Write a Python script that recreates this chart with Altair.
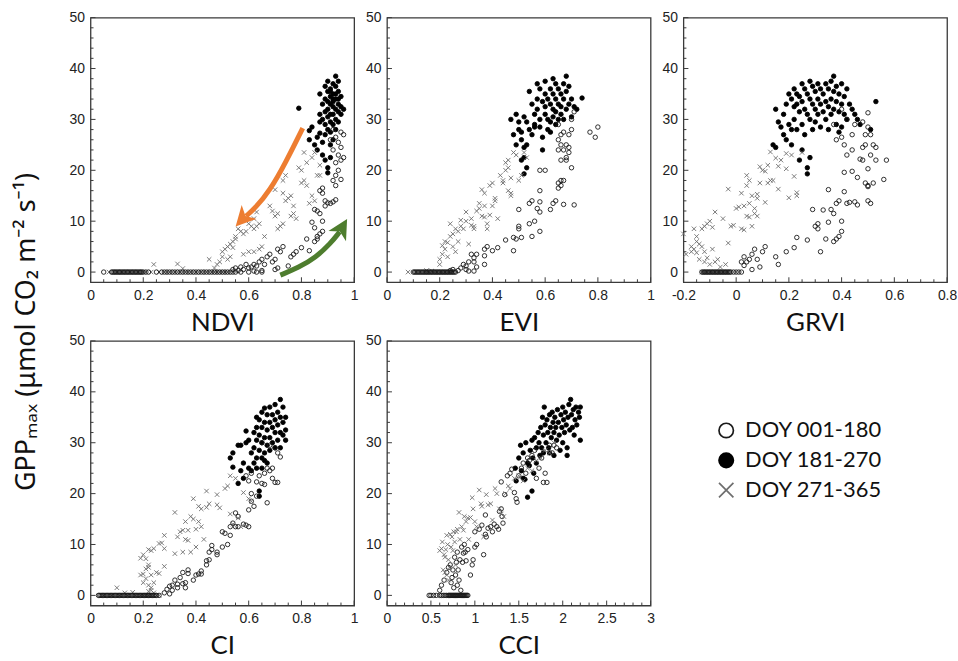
import altair as alt
import pandas as pd

SERIES = ["DOY 001-180", "DOY 181-270", "DOY 271-365"]
X_SHAPE = "M-1,-1L1,1M-1,1L1,-1"
HEAD_SHAPE = "M0,-1L0.95,0.85L0,0.35L-0.95,0.85Z"

Y_TITLE = "GPPₘₐₓ (μmol CO₂ m⁻² s⁻¹)"
Y_MAJOR = [0, 10, 20, 30, 40, 50]
Y_MINOR = [2, 4, 6, 8, 12, 14, 16, 18, 22, 24, 26, 28, 32, 34, 36, 38, 42, 44, 46, 48]

# ---------------- NDVI ----------------
ndvi_filled = [(0.79,32.2),(0.83,27.8),(0.84,28.5),(0.83,26.0),(0.85,25.0),(0.86,26.5),(0.86,24.0),(0.87,27.3),(0.87,29.5),(0.87,31.0),(0.87,35.0),(0.88,33.0),(0.88,30.0),(0.88,25.5),(0.88,23.0),(0.89,36.5),(0.89,34.0),(0.89,31.5),(0.89,29.0),(0.89,27.0),(0.89,22.0),(0.90,37.5),(0.90,35.5),(0.90,33.5),(0.90,32.0),(0.90,30.5),(0.90,28.0),(0.90,20.5),(0.90,19.5),(0.91,36.0),(0.91,34.5),(0.91,33.0),(0.91,31.0),(0.91,29.5),(0.91,27.5),(0.91,25.0),(0.91,22.5),(0.92,37.0),(0.92,35.0),(0.92,33.5),(0.92,32.5),(0.92,31.0),(0.92,29.0),(0.92,26.0),(0.93,38.5),(0.93,36.5),(0.93,34.0),(0.93,32.0),(0.93,30.0),(0.93,28.0),(0.94,37.5),(0.94,35.5),(0.94,33.0),(0.94,31.5),(0.94,29.5),(0.95,34.5),(0.95,32.5),(0.95,31.0),(0.96,32.0),(0.93,35.0),(0.92,34.0),(0.91,35.5),(0.94,34.0)]
ndvi_open = [(0.95,27.5),(0.96,27.0),(0.94,25.5),(0.95,24.5),(0.94,23.0),(0.95,22.0),(0.96,22.5),(0.93,21.5),(0.94,20.0),(0.93,19.0),(0.92,18.0),(0.93,17.0),(0.95,18.2),(0.92,24.0),(0.91,26.0),(0.93,26.5),(0.92,28.0),(0.92,13.8),(0.93,14.2),(0.91,13.5),(0.90,13.6),(0.89,14.0),(0.88,15.5),(0.87,16.0),(0.88,16.5),(0.89,13.0),(0.85,12.3),(0.86,12.0),(0.87,11.5),(0.84,9.8),(0.85,8.7),(0.86,7.0),(0.88,10.0),(0.87,7.5),(0.88,8.0),(0.85,6.0),(0.86,6.5),(0.80,4.8),(0.83,4.2),(0.82,6.5),(0.77,3.5),(0.76,3.0),(0.78,4.0),(0.75,1.2),(0.73,5.0),(0.72,4.0),(0.71,4.5),(0.70,2.5),(0.69,2.0),(0.68,3.5),(0.67,3.0),(0.66,1.5),(0.65,2.5),(0.64,2.0),(0.63,1.2),(0.62,1.5),(0.61,1.0),(0.60,0.8),(0.59,1.5),(0.58,0.5),(0.57,1.0),(0.56,0.3),(0.55,0.8),(0.54,0.5),(0.62,0.2),(0.65,0.3),(0.70,0.5),(0.71,0.8)]
ndvi_open_zero = [0.05,0.08,0.085,0.09,0.095,0.10,0.105,0.11,0.115,0.12,0.125,0.13,0.135,0.14,0.145,0.15,0.155,0.16,0.165,0.17,0.175,0.18,0.185,0.19,0.195,0.20,0.21,0.22,0.25,0.27,0.28,0.29,0.30,0.31,0.32,0.33,0.34,0.35,0.36,0.37,0.38,0.39,0.40,0.41,0.42,0.43,0.44,0.45,0.46,0.47,0.48,0.49,0.50,0.51,0.52,0.53,0.54,0.55,0.57,0.60,0.63,0.65]
ndvi_cross = [(0.24,1.5),(0.33,1.6),(0.35,0.7),(0.45,2.5),(0.47,0.8),(0.48,1.5),(0.49,2.0),(0.50,3.0),(0.50,4.0),(0.51,4.5),(0.52,5.0),(0.53,5.5),(0.54,6.0),(0.54,4.8),(0.55,6.5),(0.53,3.0),(0.52,2.5),(0.55,7.0),(0.56,8.5),(0.57,8.0),(0.58,7.5),(0.59,8.0),(0.60,9.5),(0.61,9.0),(0.62,10.5),(0.63,9.0),(0.63,11.8),(0.64,9.5),(0.62,8.5),(0.58,3.5),(0.60,4.0),(0.62,4.0),(0.64,4.5),(0.65,5.0),(0.66,7.0),(0.68,13.0),(0.69,12.0),(0.70,11.0),(0.71,8.5),(0.71,11.5),(0.72,9.0),(0.73,9.5),(0.73,15.5),(0.74,14.0),(0.75,14.5),(0.76,15.0),(0.73,18.0),(0.74,19.0),(0.76,11.0),(0.77,11.5),(0.78,10.5),(0.80,17.5),(0.81,18.0),(0.82,17.0),(0.79,20.5),(0.80,20.0),(0.82,21.5),(0.81,23.5),(0.83,13.5),(0.84,15.0),(0.85,14.0),(0.86,19.0),(0.84,22.5),(0.85,23.5),(0.87,21.0),(0.87,19.0),(0.70,16.2),(0.77,13.0)]
ndvi_cross_zero = [0.07,0.10,0.12,0.15,0.18,0.20,0.23,0.26,0.28,0.30,0.32,0.34,0.36,0.38,0.40,0.42,0.44,0.46,0.47,0.48,0.49,0.50,0.51,0.52]

# ---------------- EVI ----------------
evi_filled = [(0.47,30),(0.48,27),(0.49,25),(0.49,31),(0.50,28),(0.50,29.5),(0.51,27.5),(0.51,26),(0.52,30.5),(0.52,24.5),(0.52,22.5),(0.51,22),(0.53,20.5),(0.52,19.3),(0.53,25),(0.54,28),(0.54,35.5),(0.55,33),(0.55,27),(0.56,31),(0.56,29),(0.57,37),(0.57,34),(0.57,32),(0.58,36),(0.58,30),(0.58,28.5),(0.59,33.5),(0.59,24),(0.60,37.5),(0.60,35),(0.60,32.5),(0.60,31),(0.61,34),(0.61,30),(0.61,28),(0.62,36),(0.62,33),(0.62,29.5),(0.63,38),(0.63,35),(0.63,32),(0.63,30.5),(0.64,37),(0.64,34),(0.64,31.5),(0.64,29),(0.65,36),(0.65,33),(0.65,30),(0.66,35),(0.66,32.5),(0.66,31),(0.67,37),(0.67,34),(0.67,30),(0.68,38.5),(0.68,35.5),(0.68,32),(0.69,36.5),(0.69,33),(0.70,34),(0.70,30.5),(0.71,32.5),(0.72,32),(0.74,34.2),(0.56,28.5),(0.59,26.5),(0.62,27.5),(0.53,29.5)]
evi_open = [(0.65,29),(0.66,27),(0.65,26),(0.66,25),(0.67,24),(0.68,25),(0.69,24.5),(0.68,22),(0.66,22),(0.65,24),(0.67,27.5),(0.69,27),(0.70,28),(0.70,30),(0.71,31.5),(0.70,20.5),(0.71,13.2),(0.67,13.3),(0.66,18),(0.65,17.5),(0.65,16.5),(0.66,17),(0.67,18),(0.64,14),(0.63,13.5),(0.62,12.3),(0.77,27.5),(0.79,26.5),(0.80,28.5),(0.68,22.5),(0.69,23.5),(0.58,20),(0.60,20),(0.58,16),(0.58,13.8),(0.57,12.5),(0.58,11.8),(0.54,13.5),(0.55,14),(0.56,10),(0.54,9.5),(0.55,7),(0.58,8),(0.50,12.3),(0.50,9),(0.50,8.5),(0.51,6.8),(0.49,6.5),(0.48,6.8),(0.48,4.2),(0.45,6.3),(0.42,4.8),(0.40,4.2),(0.38,5.0),(0.37,4.5),(0.37,3.2),(0.37,1.5),(0.34,3.5),(0.33,2.8),(0.33,2.0),(0.34,1.0),(0.32,3.5),(0.31,2.0),(0.30,1.2),(0.30,0.5),(0.29,1.5),(0.28,0.8),(0.27,0.3),(0.25,0.5),(0.24,0.3),(0.33,0.2),(0.31,0.2)]
evi_open_zero = [0.10,0.105,0.11,0.115,0.12,0.125,0.13,0.135,0.14,0.145,0.15,0.155,0.16,0.165,0.17,0.175,0.18,0.185,0.19,0.195,0.20,0.205,0.21,0.215,0.22,0.225,0.23,0.235,0.24,0.245,0.25,0.255,0.26]
evi_cross = [(0.08,0),(0.15,0.3),(0.17,0.2),(0.20,1.5),(0.20,2.5),(0.21,3.5),(0.21,5.2),(0.22,6),(0.22,4.5),(0.23,5.8),(0.23,3),(0.24,7),(0.24,9.5),(0.25,7.5),(0.25,5),(0.26,8.5),(0.26,4),(0.27,8),(0.27,6),(0.28,9),(0.28,10.2),(0.29,8.5),(0.30,11.8),(0.30,10),(0.31,5.5),(0.32,9.2),(0.32,10.5),(0.33,8.5),(0.33,9),(0.34,12),(0.35,12.5),(0.35,13.5),(0.36,16.2),(0.36,11),(0.37,15.5),(0.37,13),(0.37,10.8),(0.38,9.5),(0.38,8.5),(0.39,11.2),(0.39,17),(0.40,17.5),(0.40,13),(0.41,14.5),(0.41,14),(0.42,10.5),(0.43,19),(0.44,18),(0.44,17.5),(0.45,20),(0.45,21.5),(0.46,22),(0.46,16),(0.47,15),(0.47,18.5),(0.48,23.5),(0.49,23),(0.50,18),(0.51,19),(0.52,23.5),(0.53,22.5),(0.47,15.5),(0.46,20.5)]
evi_cross_zero = [0.15,0.16,0.18,0.19,0.20,0.21,0.22,0.23,0.24]

# ---------------- GRVI ----------------
grvi_filled = [(0.14,25),(0.15,32),(0.15,24.5),(0.16,29.5),(0.17,28.5),(0.18,31),(0.18,27),(0.19,33),(0.19,26),(0.20,35),(0.20,29),(0.21,34),(0.21,28),(0.21,25),(0.22,36),(0.22,32.5),(0.22,30),(0.23,35),(0.23,33),(0.23,28),(0.24,34.5),(0.24,31.5),(0.24,22),(0.25,37),(0.25,33.5),(0.25,29),(0.25,24),(0.26,36),(0.26,32),(0.26,27),(0.27,19.3),(0.27,20.5),(0.27,35),(0.27,31),(0.28,37.5),(0.28,34),(0.28,30),(0.28,22.5),(0.29,36.5),(0.29,33),(0.29,28),(0.30,35.5),(0.30,32),(0.30,29.5),(0.31,37),(0.31,34),(0.31,31),(0.32,36),(0.32,33),(0.32,28.5),(0.33,35),(0.33,31.5),(0.34,37),(0.34,33.5),(0.34,30),(0.35,36),(0.35,32.5),(0.35,28),(0.36,37.5),(0.36,34),(0.36,31),(0.37,38.5),(0.37,35.5),(0.37,32),(0.38,36.5),(0.38,33.5),(0.38,29),(0.39,35),(0.39,31.5),(0.40,37),(0.40,33),(0.41,34.5),(0.41,31),(0.42,36),(0.42,30),(0.43,33),(0.44,32),(0.45,31),(0.46,30),(0.47,29),(0.51,28),(0.53,33.5),(0.39,27.5),(0.40,28.5)]
grvi_open = [(0.03,1.3),(0.02,2),(0.03,3),(0.04,2),(0.05,2.5),(0.06,0.5),(0.06,3.5),(0.07,4.5),(0.08,2.5),(0.09,1),(0.10,4),(0.11,5),(0.15,3),(0.16,1.5),(0.19,4),(0.22,4.8),(0.23,6.8),(0.27,6.3),(0.29,12.3),(0.30,9),(0.31,8.5),(0.31,9.5),(0.32,4),(0.33,12.2),(0.34,6.5),(0.35,9.8),(0.35,16.2),(0.36,12.3),(0.37,11.5),(0.37,6),(0.38,6.5),(0.38,13.5),(0.39,14),(0.39,7),(0.40,8),(0.40,10),(0.41,15.8),(0.41,19.6),(0.42,13.5),(0.42,23),(0.43,13.7),(0.44,19.8),(0.44,24),(0.45,13.8),(0.46,18.6),(0.46,13.2),(0.47,22.2),(0.48,22),(0.48,24.5),(0.49,27),(0.49,25),(0.50,20.3),(0.50,17),(0.50,14),(0.51,13.5),(0.51,23),(0.52,25),(0.52,17.5),(0.53,22),(0.53,24.5),(0.56,18.2),(0.57,22),(0.48,29.5),(0.50,31.3),(0.50,28.5),(0.45,29),(0.42,30),(0.40,32),(0.37,29),(0.38,26),(0.40,26.5),(0.41,25),(0.44,27),(0.51,27),(0.50,16.8),(0.49,17.5)]
grvi_open_zero = [-0.13,-0.125,-0.12,-0.115,-0.11,-0.105,-0.10,-0.095,-0.09,-0.085,-0.08,-0.075,-0.07,-0.065,-0.06,-0.055,-0.05,-0.045,-0.04,-0.035,-0.03,-0.025,-0.02,-0.01,0.00,0.01,0.02]
grvi_cross = [(-0.20,7.5),(-0.19,3.5),(-0.17,5),(-0.17,4),(-0.16,8.5),(-0.16,4.5),(-0.15,7),(-0.15,6),(-0.15,3.8),(-0.14,5.5),(-0.14,2.5),(-0.13,8.5),(-0.13,5),(-0.12,9),(-0.12,4),(-0.12,2),(-0.11,9.5),(-0.11,2.8),(-0.10,10),(-0.10,1.5),(-0.09,8.8),(-0.09,4.5),(-0.08,11.8),(-0.07,2.5),(-0.05,10.5),(-0.04,1.5),(-0.03,16.3),(-0.03,5.7),(-0.02,9),(-0.01,9.2),(0.00,12.5),(0.01,12.8),(0.02,15.5),(0.02,8.5),(0.03,8.3),(0.03,13),(0.04,17),(0.04,19),(0.04,11),(0.05,18),(0.05,13.5),(0.05,10.8),(0.06,9),(0.06,15),(0.07,11.5),(0.07,12.5),(0.08,14.5),(0.08,15.3),(0.08,11),(0.09,20.7),(0.09,17.5),(0.10,20),(0.11,13.7),(0.11,19.8),(0.12,21),(0.12,17.5),(0.13,23.6),(0.13,18),(0.14,18),(0.15,22.4),(0.16,20.8),(0.16,16.3),(0.17,22),(0.19,23.3),(0.19,20.3),(0.20,14.6),(0.21,23),(0.22,18.8),(0.23,15.6),(0.23,15),(0.25,23.5),(-0.06,1),(-0.08,2)]
grvi_cross_zero = [-0.13,-0.12,-0.11,-0.10,-0.09,-0.08,-0.07,-0.06,-0.05,-0.04,-0.03]

# ---------------- CI ----------------
ci_filled = [(0.53,27),(0.54,28),(0.54,25.2),(0.56,29.5),(0.56,22),(0.57,29.5),(0.57,24.5),(0.58,26),(0.58,23),(0.59,32.3),(0.59,30),(0.60,30.5),(0.60,25),(0.61,28),(0.61,24.5),(0.62,32),(0.62,29),(0.62,26),(0.63,35),(0.63,33),(0.63,30.5),(0.63,27),(0.63,25),(0.64,19.5),(0.64,20.5),(0.64,34.5),(0.64,31.5),(0.64,28.5),(0.65,36),(0.65,33),(0.65,30),(0.65,27),(0.66,36.8),(0.66,34),(0.66,31),(0.66,28),(0.67,35.5),(0.67,32.5),(0.67,29.5),(0.67,26),(0.68,37),(0.68,34),(0.68,31),(0.68,28.5),(0.69,35.5),(0.69,33),(0.69,30),(0.70,37.5),(0.70,34.5),(0.70,32),(0.70,29),(0.71,36),(0.71,33.5),(0.71,30.5),(0.72,38.5),(0.72,35),(0.72,32),(0.72,29),(0.73,37),(0.73,34),(0.73,31.5),(0.74,35),(0.74,32.5),(0.74,30.5),(0.65,25),(0.66,26.5)]
ci_open = [(0.28,0.5),(0.29,1.2),(0.30,0.3),(0.30,1.8),(0.31,2.0),(0.31,1.0),(0.32,3.0),(0.33,2.2),(0.33,1.5),(0.34,3.5),(0.35,4.5),(0.35,2.3),(0.36,2.5),(0.36,1.5),(0.37,5.0),(0.37,4.3),(0.39,3.0),(0.40,4.0),(0.41,4.2),(0.42,4.8),(0.42,4.2),(0.44,6.0),(0.44,6.8),(0.45,7.0),(0.45,8.5),(0.46,9.8),(0.46,9.0),(0.48,8.5),(0.48,8.0),(0.50,9.5),(0.50,12.5),(0.51,12.2),(0.52,10),(0.53,11.8),(0.53,13.5),(0.54,14.2),(0.55,13.5),(0.55,16.2),(0.56,15.5),(0.56,13.5),(0.58,14),(0.59,13.8),(0.60,13.5),(0.60,16.8),(0.61,18.5),(0.61,20),(0.62,17.5),(0.63,19.5),(0.63,22.3),(0.64,23.5),(0.65,22),(0.66,21.8),(0.67,18.2),(0.66,24),(0.67,25),(0.68,24.5),(0.69,25),(0.69,23),(0.70,22.2),(0.71,22.2),(0.72,27.2),(0.71,28),(0.70,29),(0.60,22.5),(0.59,23.5),(0.61,24),(0.65,30),(0.68,29.5)]
ci_open_zero = [0.03,0.035,0.04,0.045,0.05,0.055,0.06,0.065,0.07,0.075,0.08,0.085,0.09,0.095,0.10,0.105,0.11,0.115,0.12,0.125,0.13,0.135,0.14,0.145,0.15,0.155,0.16,0.165,0.17,0.175,0.18,0.185,0.19,0.195,0.20,0.205,0.21,0.215,0.22,0.225,0.23,0.235,0.24,0.245,0.25,0.26]
ci_cross = [(0.10,1.5),(0.13,0.5),(0.16,0.6),(0.19,4),(0.19,7.3),(0.20,4.2),(0.20,8),(0.20,2.5),(0.21,7.2),(0.21,5.2),(0.21,3.3),(0.22,5.5),(0.22,6),(0.22,9),(0.22,2),(0.23,8.8),(0.23,4),(0.23,1.5),(0.24,9.2),(0.24,2.5),(0.25,4.5),(0.26,4.3),(0.26,10.2),(0.27,10.3),(0.28,11.8),(0.28,9.2),(0.28,5.7),(0.32,16.3),(0.32,8.2),(0.33,11.5),(0.34,12.5),(0.35,12.8),(0.35,8.5),(0.36,11),(0.36,14.5),(0.37,12.8),(0.37,10.8),(0.38,15.5),(0.38,8.5),(0.39,15),(0.39,19),(0.40,13),(0.40,9.5),(0.41,14.5),(0.41,17.5),(0.42,17),(0.42,13.5),(0.43,11),(0.44,17.3),(0.44,20.5),(0.45,18),(0.48,19.8),(0.48,17.8),(0.49,17.2),(0.51,21),(0.52,21.5),(0.53,23.5),(0.53,16),(0.54,14),(0.55,23),(0.56,15.2),(0.57,13.5),(0.58,20.2),(0.60,19),(0.61,18.5),(0.22,0.8),(0.23,1),(0.24,0.5)]
ci_cross_zero = [0.05,0.08,0.11,0.14,0.17,0.19,0.20,0.21,0.22,0.23,0.24,0.25,0.26]

# ---------------- CCI ----------------
cci_filled = [(1.46,25),(1.47,22.5),(1.50,27),(1.52,29.5),(1.53,24.5),(1.55,28),(1.55,23),(1.57,22.8),(1.58,30),(1.60,26),(1.60,19.3),(1.62,25.5),(1.63,28.5),(1.65,20.5),(1.65,30.5),(1.66,27),(1.67,24),(1.68,31),(1.70,29),(1.70,26),(1.72,32),(1.73,30),(1.74,27.5),(1.75,33),(1.76,29),(1.77,35),(1.78,31.5),(1.78,28),(1.79,37),(1.80,33.5),(1.81,30),(1.82,34.5),(1.83,32),(1.84,29),(1.85,35.5),(1.86,33),(1.87,31),(1.88,36),(1.89,34),(1.90,32),(1.90,27.5),(1.91,35),(1.92,33),(1.93,30.5),(1.94,36.5),(1.95,34),(1.96,31.5),(1.97,28.5),(1.98,35.5),(1.99,33),(2.00,37),(2.00,30),(2.01,34.5),(2.02,32),(2.03,36),(2.04,33.5),(2.05,29),(2.06,35),(2.07,37.5),(2.08,32.5),(2.09,38.5),(2.10,35.5),(2.11,33),(2.12,36.5),(2.13,31.5),(2.14,34.5),(2.15,37),(2.16,33.5),(2.18,36),(2.19,35),(2.20,37),(2.20,30.5),(2.05,27.5),(1.85,28)]
cci_open = [(0.60,1),(0.62,2),(0.65,3),(0.68,4.5),(0.70,5.5),(0.72,6),(0.73,2.5),(0.74,3.5),(0.75,5),(0.76,1.5),(0.77,7.5),(0.78,4),(0.79,6.5),(0.80,2),(0.80,8.5),(0.81,5),(0.82,3),(0.83,7),(0.84,1),(0.85,9.5),(0.86,6.5),(0.87,8.3),(0.88,10),(0.89,8.5),(0.90,6.8),(0.92,9),(0.95,4),(0.97,6),(0.98,7),(1.00,12.5),(1.00,9.5),(1.02,10),(1.05,13),(1.08,13.8),(1.10,8),(1.12,12),(1.12,15.8),(1.13,11.5),(1.15,13.2),(1.18,13.5),(1.20,12.5),(1.22,14),(1.25,13.5),(1.27,13),(1.28,16.5),(1.30,17),(1.30,22.3),(1.31,15.5),(1.32,14.2),(1.34,19.8),(1.37,23.5),(1.40,24),(1.42,24.8),(1.45,20.2),(1.47,19),(1.48,18.3),(1.50,23.5),(1.53,25),(1.55,26),(1.58,24),(1.60,27),(1.62,26.5),(1.65,27.5),(1.68,28.5),(1.70,23),(1.73,25),(1.76,27),(1.78,22.2),(1.80,24),(1.82,22.2),(1.85,29.5),(1.88,28),(1.90,29.5),(1.93,29)]
cci_open_zero = [0.48,0.50,0.53,0.56,0.60,0.62,0.64,0.66,0.68,0.70,0.71,0.72,0.73,0.74,0.75,0.76,0.77,0.78,0.79,0.80,0.81,0.82,0.83,0.84,0.85,0.86,0.87,0.88,0.89,0.90,0.91,0.92]
cci_cross = [(0.60,8.8),(0.62,9.2),(0.63,10.5),(0.65,8),(0.66,7.5),(0.67,9),(0.68,11.8),(0.69,10),(0.70,7),(0.71,5.5),(0.72,12),(0.73,9.5),(0.74,11.5),(0.75,8.8),(0.76,12.5),(0.77,10.5),(0.78,6),(0.79,12.5),(0.80,13),(0.82,16.3),(0.83,11),(0.85,13.5),(0.87,12.8),(0.88,15.5),(0.90,14.5),(0.92,15.2),(0.93,11),(0.95,15.3),(0.97,19.2),(0.98,17),(1.00,14.5),(1.02,13.5),(1.05,20.7),(1.07,18),(1.08,17.5),(1.10,11.5),(1.13,19.8),(1.15,17.8),(1.18,18),(1.20,14.8),(1.23,21),(1.25,20),(1.28,17),(1.30,16),(1.33,15.5),(1.35,20),(1.38,21.5),(1.40,21),(1.45,23),(1.50,23.5),(1.55,22.5),(1.60,25),(1.65,24.5),(1.70,26.5),(1.75,27),(1.80,28.5),(1.85,28),(1.90,30),(0.64,5),(0.66,4.5),(0.68,4),(0.70,3)]
cci_cross_zero = [0.70,0.72,0.74,0.76,0.78,0.80,0.82,0.84,0.86,0.88,0.90]

# x-axis ticks per panel
unit_major = [0, 0.2, 0.4, 0.6, 0.8, 1]
unit_minor = [0.05, 0.1, 0.15, 0.25, 0.3, 0.35, 0.45, 0.5, 0.55, 0.65, 0.7, 0.75, 0.85, 0.9, 0.95]
grvi_major = [-0.2, 0, 0.2, 0.4, 0.6, 0.8]
grvi_minor = [-0.15, -0.1, -0.05, 0.05, 0.1, 0.15, 0.25, 0.3, 0.35, 0.45, 0.5, 0.55, 0.65, 0.7, 0.75]
cci_major = [0, 0.5, 1, 1.5, 2, 2.5, 3]
cci_minor = [0.1, 0.2, 0.3, 0.4, 0.6, 0.7, 0.8, 0.9, 1.1, 1.2, 1.3, 1.4, 1.6, 1.7, 1.8, 1.9, 2.1, 2.2, 2.3, 2.4, 2.6, 2.7, 2.8, 2.9]

# NDVI annotation arrows (data units)
orange_arrow = [(0.805, 28.3), (0.74, 21.5), (0.68, 16.0), (0.625, 12.6), (0.59, 11.0)]
orange_head = (0.578, 10.5)
green_arrow = [(0.72, -0.6), (0.79, 0.9), (0.855, 2.9), (0.91, 5.6), (0.945, 7.9)]
green_head = (0.953, 8.6)

W, H = 265, 266
FRAME = "#3a3a3a"
TICK_FONT = "Liberation Sans"
TITLE_FONT = "Lato"


def make_df(filled, opened, open_zero, cross, cross_zero):
    rows = []
    rows += [(x, y, SERIES[1]) for x, y in filled]
    rows += [(x, y, SERIES[0]) for x, y in opened]
    rows += [(x, y, SERIES[2]) for x, y in cross]
    rows += [(x, 0.0, SERIES[2]) for x in cross_zero]
    rows += [(x, 0.0, SERIES[0]) for x in open_zero]
    return pd.DataFrame(rows, columns=["x", "y", "series"])


def panel(title, df, xdom, xmajor, xminor, extra=None):
    xscale = alt.Scale(domain=xdom, nice=False, zero=False)
    yscale = alt.Scale(domain=[-2, 50], nice=False, zero=False)
    xaxis = alt.Axis(values=xmajor, labelExpr="'' + datum.value", ticks=False, domain=False,
                     grid=False, labelFont=TICK_FONT, labelFontSize=14, labelColor="#222",
                     labelPadding=6, labelFlush=False, labelOverlap=False, title=title,
                     titleFont=TITLE_FONT, titleFontSize=26, titleFontWeight="normal",
                     titleColor="#111", titlePadding=7)
    yaxis = alt.Axis(values=Y_MAJOR, ticks=False, domain=False, grid=False,
                     labelFont=TICK_FONT, labelFontSize=14, labelColor="#222",
                     labelPadding=6, labelOverlap=False, title=None)
    X = alt.X("x:Q", scale=xscale, axis=xaxis)
    Y = alt.Y("y:Q", scale=yscale, axis=yaxis)

    pts = alt.Chart(df).mark_point(size=20, strokeWidth=0.9, opacity=1).encode(
        x=X, y=Y,
        shape=alt.Shape("series:N", scale=alt.Scale(domain=SERIES, range=["circle", "circle", X_SHAPE]),
                        legend=alt.Legend(title=None)),
        fill=alt.Fill("series:N", scale=alt.Scale(domain=SERIES, range=["transparent", "#000000", "transparent"]),
                      legend=alt.Legend(title=None)),
        stroke=alt.Stroke("series:N", scale=alt.Scale(domain=SERIES, range=["#1a1a1a", "#000000", "#6e6e6e"]),
                          legend=alt.Legend(title=None)),
    )
    layers = [pts]
    for vals, ln in ((xmajor, 5), (xminor, 3)):
        layers.append(alt.Chart(pd.DataFrame({"x": vals})).mark_rule(color=FRAME, strokeWidth=1).encode(
            x=X, y=alt.value(H), y2=alt.value(H - ln)))
    for vals, ln in ((Y_MAJOR, 5), (Y_MINOR, 3)):
        layers.append(alt.Chart(pd.DataFrame({"y": vals})).mark_rule(color=FRAME, strokeWidth=1).encode(
            y=Y, x=alt.value(0), x2=alt.value(ln)))
    if extra:
        layers += extra(X, Y)
    return alt.layer(*layers).properties(width=W, height=H)


def ndvi_arrows(X, Y):
    out = []
    for pts, head, col, ang in ((orange_arrow, orange_head, "#ED7D31", 223),
                                (green_arrow, green_head, "#4E7D2E", 30)):
        d = pd.DataFrame({"x": [p[0] for p in pts], "y": [p[1] for p in pts], "o": list(range(len(pts)))})
        out.append(alt.Chart(d).mark_line(color=col, strokeWidth=5, interpolate="basis", strokeCap="butt").encode(
            x=X, y=Y, order="o:Q"))
        h = pd.DataFrame({"x": [head[0]], "y": [head[1]]})
        out.append(alt.Chart(h).mark_point(shape=HEAD_SHAPE, filled=True, size=460, angle=ang,
                                           color=col, opacity=1, strokeWidth=0).encode(x=X, y=Y))
    return out


def ytitle(X, Y):
    d = pd.DataFrame({"t": [Y_TITLE]})
    return [alt.Chart(d).mark_text(angle=270, font="Noto Sans", fontSize=27, color="#111",
                                   align="center", baseline="middle").encode(
        text="t:N", x=alt.value(-64), y=alt.value(-9))]


p1 = panel("NDVI", make_df(ndvi_filled, ndvi_open, ndvi_open_zero, ndvi_cross, ndvi_cross_zero),
           [0, 1], unit_major, unit_minor, ndvi_arrows)
p2 = panel("EVI", make_df(evi_filled, evi_open, evi_open_zero, evi_cross, evi_cross_zero),
           [0, 1], unit_major, unit_minor)
p3 = panel("GRVI", make_df(grvi_filled, grvi_open, grvi_open_zero, grvi_cross, grvi_cross_zero),
           [-0.2, 0.8], grvi_major, grvi_minor)
p4 = panel("CI", make_df(ci_filled, ci_open, ci_open_zero, ci_cross, ci_cross_zero),
           [0, 1], unit_major, unit_minor, ytitle)
p5 = panel("CCI", make_df(cci_filled, cci_open, cci_open_zero, cci_cross, cci_cross_zero),
           [0, 3], cci_major, cci_minor)

chart = alt.concat(p1, p2, p3, p4, p5, columns=3, spacing={"row": 59, "column": 33},
                   bounds="flush").properties(
    padding={"left": 12, "top": 8, "right": 0, "bottom": 0}
).configure_view(stroke=FRAME, strokeWidth=1.3).configure_legend(
    orient="none", legendX=628, legendY=404, labelFont=TITLE_FONT, labelFontSize=22,
    labelColor="#111", symbolSize=210, symbolStrokeWidth=1.7, rowPadding=8, labelOffset=8, padding=0
)

chart.save("out.html", embed_options={"renderer": "svg", "actions": False})
